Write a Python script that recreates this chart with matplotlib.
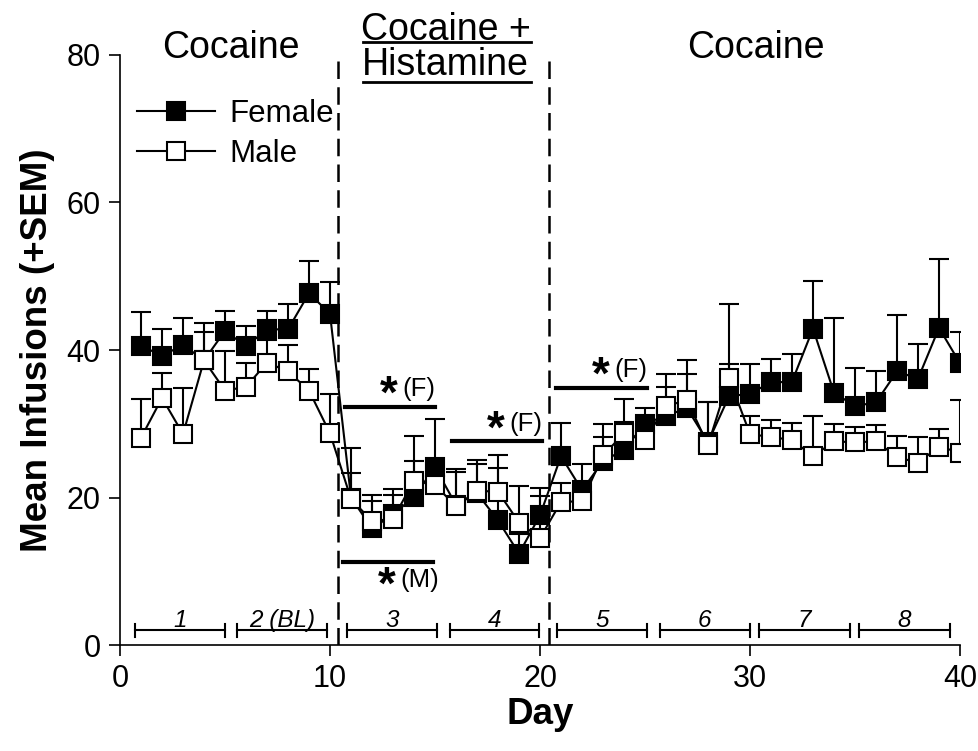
import numpy as np
import matplotlib
matplotlib.use("Agg")
import matplotlib.pyplot as plt
from matplotlib.container import ErrorbarContainer

plt.rcParams['font.family'] = ['Liberation Sans', 'DejaVu Sans']
plt.rcParams['mathtext.fontset'] = 'custom'
plt.rcParams['mathtext.rm'] = 'Liberation Sans'
plt.rcParams['mathtext.bf'] = 'Liberation Sans:bold'

days = np.arange(1, 41)
female = [40.6, 39.2, 40.7, 38.6, 42.6, 40.5, 42.8, 42.8, 47.7, 44.9,
          20.0, 15.8, 17.7, 20.1, 24.1, 19.0, 20.6, 16.9, 12.4, 17.6,
          25.6, 21.0, 24.9, 26.5, 30.0, 31.1, 32.1, 27.5, 33.7, 34.1,
          35.6, 35.7, 42.9, 34.2, 32.4, 32.9, 37.1, 36.1, 43.0, 38.2]
female_top = [45.1, 42.9, 44.3, 43.6, 45.3, 43.2, 45.3, 46.3, 52.1, 49.2,
              26.7, 19.5, 20.4, 28.3, 30.7, 23.5, 24.5, 25.8, 15.0, 21.3,
              30.1, 24.6, 28.2, 30.3, 32.2, 35.0, 36.8, 33.0, 38.1, 38.1,
              38.8, 39.4, 49.4, 44.4, 37.6, 37.1, 44.8, 40.8, 52.4, 42.5]
male = [28.1, 33.5, 28.6, 38.6, 34.5, 35.0, 38.3, 37.1, 34.5, 28.7,
        19.8, 16.8, 17.1, 22.3, 21.7, 18.8, 20.9, 20.8, 16.6, 14.5,
        19.4, 19.5, 25.7, 28.7, 27.8, 32.4, 33.2, 27.1, 36.2, 28.6,
        28.2, 27.8, 25.6, 27.6, 27.5, 27.6, 25.5, 24.7, 26.9, 26.1]
male_top = [33.4, 36.9, 34.8, 42.5, 39.9, 38.3, 41.4, 40.7, 37.4, 34.1,
            23.3, 20.3, 21.1, 25.0, 24.5, 23.8, 25.1, 24.0, 21.6, 20.2,
            22.0, 21.5, 30.0, 33.4, 29.5, 36.7, 38.6, 33.0, 46.2, 31.0,
            30.5, 30.1, 31.1, 30.0, 29.5, 29.8, 28.4, 28.2, 29.3, 33.2]

block_labels = ['1', '2 (BL)', '3', '4', '5', '6', '7', '8']
block_start = [0.72, 5.55, 10.8, 15.7, 20.8, 25.7, 30.45, 35.2]
block_end = [5.0, 9.85, 15.1, 19.97, 25.1, 30.0, 34.75, 39.5]
phase_bounds = [10.4, 20.43]

sig_start = [10.7, 15.8, 20.76]
sig_end = [15.0, 20.1, 25.1]
sig_y = [32.3, 27.6, 34.9]
sig_label = ['(F)', '(F)', '(F)']
m_start, m_end, m_y = 10.6, 14.9, 11.2

fig = plt.figure(figsize=(9.79, 7.51), dpi=100)
ax = fig.add_axes([0.1226, 0.1411, 0.858, 0.7857])

female = np.array(female); male = np.array(male)
f_err = np.array(female_top) - female
m_err = np.array(male_top) - male

ax.errorbar(days, female, yerr=[np.zeros_like(f_err), f_err], fmt='s-', color='black',
            mfc='black', mec='black', ms=13.5, mew=1.5, lw=1.5, elinewidth=1.5,
            capsize=7, capthick=1.5, label='Female', zorder=3)
ax.errorbar(days, male, yerr=[np.zeros_like(m_err), m_err], fmt='s-', color='black',
            mfc='white', mec='black', ms=13.5, mew=1.5, lw=1.5, elinewidth=1.5,
            capsize=7, capthick=1.5, label='Male', zorder=4)

for xb in phase_bounds:
    ax.axvline(xb, ymin=0, ymax=0.99, color='black', lw=1.8, ls=(0, (7, 3.3)), zorder=2)

for s, e, lab in zip(block_start, block_end, block_labels):
    ax.plot([s, e], [2.0, 2.0], color='black', lw=1.5)
    ax.plot([s, s], [1.1, 2.9], color='black', lw=1.5)
    ax.plot([e, e], [1.1, 2.9], color='black', lw=1.5)
    ax.text((s + e) / 2, 1.75, lab, ha='center', va='bottom', fontsize=17.5, style='italic')

star = r'$\mathbf{*}$'
for s, e, y, lab in zip(sig_start, sig_end, sig_y, sig_label):
    ax.plot([s, e], [y, y], color='black', lw=3)
    t = ax.text(e, y + 0.8, lab, ha='right', va='bottom', fontsize=18.5)
    ax.annotate(star, xy=(0, 1.0), xycoords=t, ha='right', va='top',
                fontsize=33, xytext=(-2.5, 3), textcoords='offset points')
ax.plot([m_start, m_end], [m_y, m_y], color='black', lw=3)
t = ax.text(m_end + 0.3, m_y - 0.8, '(M)', ha='right', va='top', fontsize=18.5)
ax.annotate(star, xy=(0, 1.0), xycoords=t, ha='right', va='top',
            fontsize=33, xytext=(-2.5, 3), textcoords='offset points')

ax.text(5.3, 81.0, 'Cocaine', ha='center', va='center', fontsize=27, clip_on=False)
ax.text(30.3, 81.0, 'Cocaine', ha='center', va='center', fontsize=27, clip_on=False)
ax.text(15.5, 83.4, 'Cocaine +', ha='center', va='center', fontsize=27, clip_on=False)
ax.text(15.5, 78.6, 'Histamine', ha='center', va='center', fontsize=27, clip_on=False)
ax.plot([11.57, 19.57], [81.8, 81.8], color='black', lw=2, clip_on=False)
ax.plot([11.57, 19.57], [76.3, 76.3], color='black', lw=2, clip_on=False)

ax.set_xlim(0, 40)
ax.set_ylim(0, 80)
ax.set_xticks([0, 10, 20, 30, 40])
ax.set_yticks([0, 20, 40, 60, 80])
ax.tick_params(direction='out', length=8, width=1.2, labelsize=22, pad=6)
for side in ['top', 'right']:
    ax.spines[side].set_visible(False)
for side in ['left', 'bottom']:
    ax.spines[side].set_linewidth(1.2)

ax.set_xlabel('Day', fontsize=26.5, fontweight='bold', labelpad=2)
ax.set_ylabel('Mean Infusions (+SEM)', fontsize=26.5, fontweight='bold', labelpad=8)

handles, labels = ax.get_legend_handles_labels()
hs = [h[0] if isinstance(h, ErrorbarContainer) else h for h in handles]
ax.legend(hs, labels, loc='upper left', bbox_to_anchor=(0.02, 0.925), frameon=False,
          fontsize=22.5, handlelength=2.5, handletextpad=0.45, labelspacing=0.3,
          borderpad=0, borderaxespad=0, numpoints=1, markerscale=1.0)

fig.savefig('out.png', dpi=100)
